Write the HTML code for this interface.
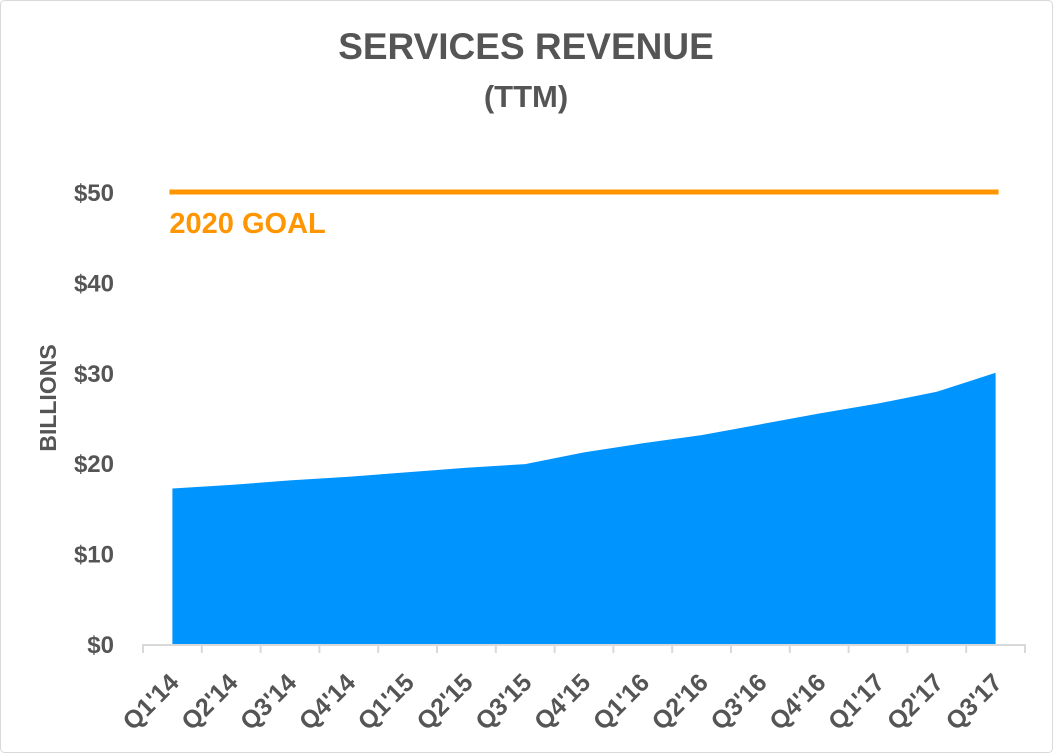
<!DOCTYPE html>
<html><head><meta charset="utf-8"><style>
body{margin:0;background:#fff;}
svg{display:block;font-family:"Liberation Sans",sans-serif;font-weight:bold;}
</style></head><body>
<svg width="1053" height="753">
<rect x="0.5" y="0.5" width="1052" height="752" rx="4" fill="#fff" stroke="#d9d9d9"/>
<text x="526" y="59" text-anchor="middle" font-size="37" fill="#555">SERVICES REVENUE</text>
<text x="526" y="107" text-anchor="middle" font-size="31" fill="#555">(TTM)</text>
<text transform="translate(56,398) rotate(-90)" text-anchor="middle" font-size="23" fill="#555">BILLIONS</text>
<g id="plot"></g>
</svg>
<script>
const categories=["Q1'14","Q2'14","Q3'14","Q4'14","Q1'15","Q2'15","Q3'15","Q4'15","Q1'16","Q2'16","Q3'16","Q4'16","Q1'17","Q2'17","Q3'17"];
const revenue=[17.2,17.6,18.1,18.5,19.0,19.5,19.9,21.2,22.2,23.1,24.3,25.5,26.6,27.9,30.0];
const goal=[50];
const yTicks=[0,10,20,30,40,50];
const yLabels=["$0","$10","$20","$30","$40","$50"];
const goalLabel=["2020 GOAL"];
const NS="http://www.w3.org/2000/svg";
const g=document.getElementById('plot');
const x0=143,x1=1025,y0=644,ppu=9.04;
const bw=(x1-x0)/categories.length;
const xc=i=>x0+bw*(i+0.5);
const y=v=>y0-v*ppu;
function mk(t,a){const e=document.createElementNS(NS,t);for(const k in a)e.setAttribute(k,a[k]);g.appendChild(e);return e;}
yTicks.forEach((v,i)=>{const t=mk('text',{x:114,y:y(v)+9,'text-anchor':'end','font-size':24,fill:'#555'});t.textContent=yLabels[i];

});
let d=`M${xc(0)},${y0}`;revenue.forEach((v,i)=>d+=` L${xc(i)},${y(v)}`);d+=` L${xc(revenue.length-1)},${y0} Z`;
const a=mk('path',{d:d,fill:'#0094ff'});


const ax=mk('line',{x1:x0,x2:x1,y1:y0+1,y2:y0+1,stroke:'#d9d9d9','stroke-width':2});


for(let i=0;i<=categories.length;i++){const tk=mk('line',{x1:x0+bw*i,x2:x0+bw*i,y1:y0,y2:y0+9,stroke:'#d9d9d9','stroke-width':2});

}
categories.forEach((c,i)=>{const cx=xc(i)+8,cy=684;const t=mk('text',{x:cx,y:cy,'text-anchor':'end','font-size':25,fill:'#555',transform:`rotate(-45 ${cx} ${cy})`});t.textContent=c;

});
const gl=mk('line',{x1:xc(0)-3,x2:xc(categories.length-1)+3,y1:y(goal[0]),y2:y(goal[0]),stroke:'#ff9500','stroke-width':5});


const gt=mk('text',{x:xc(0)-3,y:y(goal[0])+41,'font-size':29,fill:'#ff9500'});gt.textContent=goalLabel[0];


</script>
</body></html>
